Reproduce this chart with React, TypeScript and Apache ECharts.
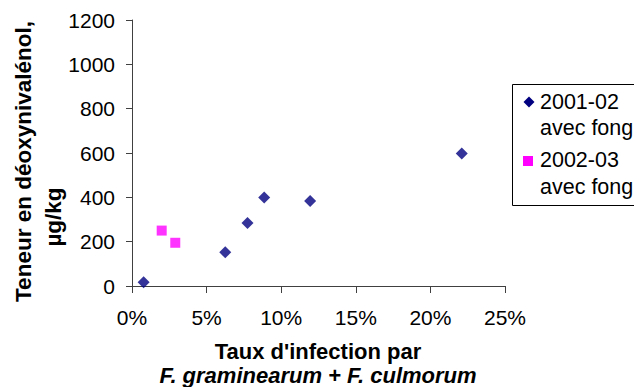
import React, { useEffect, useRef } from "react";
import * as echarts from "echarts";

const series1Name = "2001-02 avec fong";
const series2Name = "2002-03 avec fong";
const series1X = [0.0078, 0.0625, 0.0774, 0.0886, 0.1194, 0.221];
const series1Y = [17, 152, 284, 399, 384, 598];
const series2X = [0.0199, 0.029];
const series2Y = [250, 195];
const xTicks = { min: 0, max: 0.25, interval: 0.05 };
const yTicks = { min: 0, max: 1200, interval: 200 };
const xTitle1 = "Taux d'infection par";
const xTitle2 = "F. graminearum + F. culmorum";
const yTitle1 = "Teneur en déoxynivalénol,";
const yTitle2 = "µg/kg";

const FONT = "'Liberation Sans', Arial, sans-serif";

export default function App() {
  const ref = useRef<HTMLDivElement>(null);
  useEffect(() => {
    if (!ref.current) return;
    const chart = echarts.init(ref.current, null, { renderer: "svg" });
    const axisLine = { show: true, lineStyle: { color: "#404040", width: 1 } };
    chart.setOption({
      animation: false,
      backgroundColor: "#ffffff",
      textStyle: { fontFamily: FONT },
      grid: { left: 132, top: 20, right: 129, bottom: 101, containLabel: false },
      xAxis: {
        type: "value",
        min: xTicks.min,
        max: xTicks.max,
        interval: xTicks.interval,
        axisLine,
        axisTick: { show: true, length: 7, lineStyle: { color: "#404040" } },
        splitLine: { show: false },
        axisLabel: {
          color: "#000",
          fontSize: 21,
          fontFamily: FONT,
          margin: 21,
          formatter: (v: number) => Math.round(v * 100) + "%",
        },
      },
      yAxis: {
        type: "value",
        min: yTicks.min,
        max: yTicks.max,
        interval: yTicks.interval,
        axisLine,
        axisTick: { show: true, length: 6, lineStyle: { color: "#404040" } },
        splitLine: { show: false },
        axisLabel: {
          color: "#000",
          fontSize: 21,
          fontFamily: FONT,
          margin: 17,
          formatter: (v: number) => String(v),
        },
      },
      series: [
        {
          name: series1Name,
          type: "scatter",
          symbol: "diamond",
          symbolSize: 12,
          itemStyle: { color: "#000080" },
          data: series1X.map((x, i) => [x, series1Y[i]]),
        },
        {
          name: series2Name,
          type: "scatter",
          symbol: "rect",
          symbolSize: 10,
          itemStyle: { color: "#FF00FF" },
          data: series2X.map((x, i) => [x, series2Y[i]]),
        },
      ],
      graphic: [
        {
          type: "rect",
          shape: { x: 512.5, y: 84.5, width: 130, height: 121 },
          style: { fill: "#fff", stroke: "#000", lineWidth: 1 },
        },
        {
          type: "polygon",
          shape: { points: [[529, 96.5], [534.5, 102], [529, 107.5], [523.5, 102]] },
          style: { fill: "#000080" },
        },
        {
          type: "text",
          x: 540,
          y: 102,
          style: { text: "2001-02", font: `21.5px ${FONT}`, fill: "#000", verticalAlign: "middle" },
        },
        {
          type: "text",
          x: 540,
          y: 128,
          style: { text: "avec fong", font: `21.5px ${FONT}`, fill: "#000", verticalAlign: "middle" },
        },
        {
          type: "rect",
          shape: { x: 523, y: 156, width: 10, height: 10 },
          style: { fill: "#FF00FF" },
        },
        {
          type: "text",
          x: 540,
          y: 160,
          style: { text: "2002-03", font: `21.5px ${FONT}`, fill: "#000", verticalAlign: "middle" },
        },
        {
          type: "text",
          x: 540,
          y: 187,
          style: { text: "avec fong", font: `21.5px ${FONT}`, fill: "#000", verticalAlign: "middle" },
        },
        {
          type: "text",
          x: 318,
          y: 351,
          style: { text: xTitle1, font: `bold 22px ${FONT}`, fill: "#000", align: "center", verticalAlign: "middle" },
        },
        {
          type: "text",
          x: 318,
          y: 375,
          style: { text: xTitle2, font: `italic bold 22px ${FONT}`, fill: "#000", align: "center", verticalAlign: "middle" },
        },
        {
          type: "text",
          x: 23,
          y: 161.5,
          rotation: Math.PI / 2,
          style: { text: yTitle1, font: `bold 22.5px ${FONT}`, fill: "#000", align: "center", verticalAlign: "middle" },
        },
        {
          type: "text",
          x: 53,
          y: 217,
          rotation: Math.PI / 2,
          style: { text: yTitle2, font: `bold 22.5px ${FONT}`, fill: "#000", align: "center", verticalAlign: "middle" },
        },
      ],
    });
    return () => chart.dispose();
  }, []);
  return (
    <div
      ref={ref}
      style={{ position: "fixed", left: 0, top: 0, width: 634, height: 387, background: "#fff" }}
    />
  );
}
